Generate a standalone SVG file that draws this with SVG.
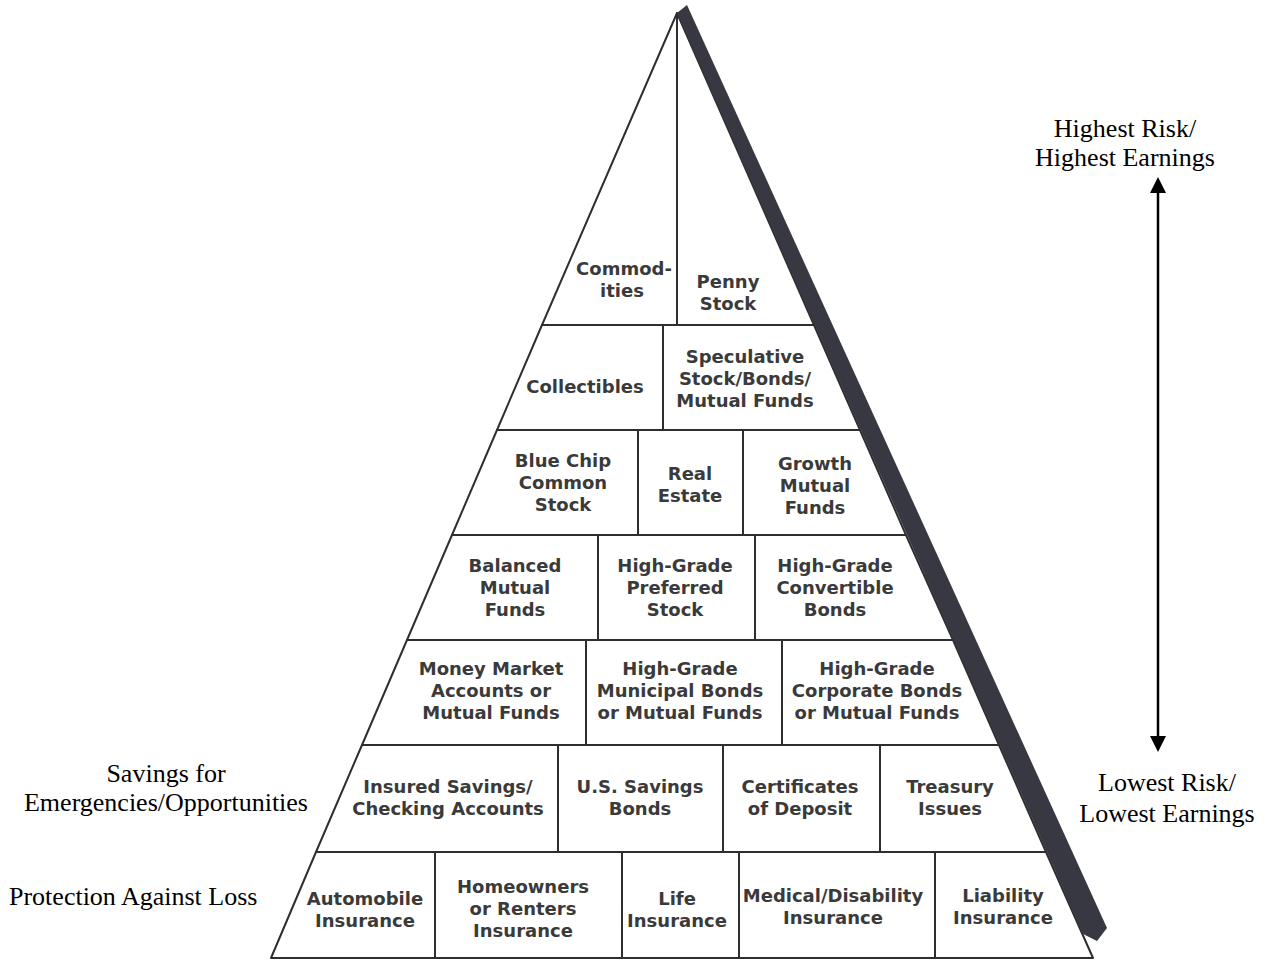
<svg xmlns="http://www.w3.org/2000/svg" width="1265" height="964" viewBox="0 0 1265 964">
<style>
.cell{fill:#fff;stroke:#2e2e2e;stroke-width:2;stroke-linejoin:round}
.lb{font-family:"DejaVu Sans","Liberation Sans",sans-serif;font-weight:bold;font-size:18px;fill:#3a3a3a;text-anchor:middle}
.side{font-family:"Liberation Serif","Times New Roman",serif;font-size:26px;fill:#000}
.mid{text-anchor:middle}
.arrow{stroke:#000;stroke-width:2.5;fill:none}
</style>
<defs>
<marker id="ah" viewBox="0 0 16 16" refX="8" refY="8" markerWidth="16" markerHeight="16" markerUnits="userSpaceOnUse" orient="auto-start-reverse">
<path d="M0,0 L16,8 L0,16 z" fill="#000"/>
</marker>
</defs>
<rect width="1265" height="964" fill="#fff"/>

<g id="row1">
<g id="commodities"><polygon class="cell" points="677,13 677,325 542,325"/><text class="lb" x="624" y="275">Commod-</text><text class="lb" x="622" y="297">ities</text></g>
<g id="penny-stock"><polygon class="cell" points="677,13 814,325 677,325"/><text class="lb" x="728" y="288">Penny</text><text class="lb" x="728" y="310">Stock</text></g>
</g>
<g id="row2">
<g id="collectibles"><polygon class="cell" points="542,325 663,325 663,430 497,430"/><text class="lb" x="585" y="393">Collectibles</text></g>
<g id="speculative"><polygon class="cell" points="663,325 814,325 860,430 663,430"/><text class="lb" x="745" y="363">Speculative</text><text class="lb" x="745" y="385">Stock/Bonds/</text><text class="lb" x="745" y="407">Mutual Funds</text></g>
</g>
<g id="row3">
<g id="blue-chip"><polygon class="cell" points="497,430 638,430 638,535 452,535"/><text class="lb" x="563" y="467">Blue Chip</text><text class="lb" x="563" y="489">Common</text><text class="lb" x="563" y="511">Stock</text></g>
<g id="real-estate"><polygon class="cell" points="638,430 743,430 743,535 638,535"/><text class="lb" x="690" y="480">Real</text><text class="lb" x="690" y="502">Estate</text></g>
<g id="growth-funds"><polygon class="cell" points="743,430 860,430 906,535 743,535"/><text class="lb" x="815" y="470">Growth</text><text class="lb" x="815" y="492">Mutual</text><text class="lb" x="815" y="514">Funds</text></g>
</g>
<g id="row4">
<g id="balanced-funds"><polygon class="cell" points="452,535 598,535 598,640 407,640"/><text class="lb" x="515" y="572">Balanced</text><text class="lb" x="515" y="594">Mutual</text><text class="lb" x="515" y="616">Funds</text></g>
<g id="preferred-stock"><polygon class="cell" points="598,535 755,535 755,640 598,640"/><text class="lb" x="675" y="572">High-Grade</text><text class="lb" x="675" y="594">Preferred</text><text class="lb" x="675" y="616">Stock</text></g>
<g id="convertible-bonds"><polygon class="cell" points="755,535 906,535 953,640 755,640"/><text class="lb" x="835" y="572">High-Grade</text><text class="lb" x="835" y="594">Convertible</text><text class="lb" x="835" y="616">Bonds</text></g>
</g>
<g id="row5">
<g id="money-market"><polygon class="cell" points="407,640 586,640 586,745 362,745"/><text class="lb" x="491" y="675">Money Market</text><text class="lb" x="491" y="697">Accounts or</text><text class="lb" x="491" y="719">Mutual Funds</text></g>
<g id="municipal-bonds"><polygon class="cell" points="586,640 782,640 782,745 586,745"/><text class="lb" x="680" y="675">High-Grade</text><text class="lb" x="680" y="697">Municipal Bonds</text><text class="lb" x="680" y="719">or Mutual Funds</text></g>
<g id="corporate-bonds"><polygon class="cell" points="782,640 953,640 999,745 782,745"/><text class="lb" x="877" y="675">High-Grade</text><text class="lb" x="877" y="697">Corporate Bonds</text><text class="lb" x="877" y="719">or Mutual Funds</text></g>
</g>
<g id="row6">
<g id="insured-savings"><polygon class="cell" points="362,745 558,745 558,852 316,852"/><text class="lb" x="448" y="793">Insured Savings/</text><text class="lb" x="448" y="815">Checking Accounts</text></g>
<g id="savings-bonds"><polygon class="cell" points="558,745 723,745 723,852 558,852"/><text class="lb" x="640" y="793">U.S. Savings</text><text class="lb" x="640" y="815">Bonds</text></g>
<g id="certificates"><polygon class="cell" points="723,745 880,745 880,852 723,852"/><text class="lb" x="800" y="793">Certificates</text><text class="lb" x="800" y="815">of Deposit</text></g>
<g id="treasury"><polygon class="cell" points="880,745 999,745 1046,852 880,852"/><text class="lb" x="950" y="793">Treasury</text><text class="lb" x="950" y="815">Issues</text></g>
</g>
<g id="row7">
<g id="automobile"><polygon class="cell" points="316,852 435,852 435,958 271,958"/><text class="lb" x="365" y="905">Automobile</text><text class="lb" x="365" y="927">Insurance</text></g>
<g id="homeowners"><polygon class="cell" points="435,852 622,852 622,958 435,958"/><text class="lb" x="523" y="893">Homeowners</text><text class="lb" x="523" y="915">or Renters</text><text class="lb" x="523" y="937">Insurance</text></g>
<g id="life"><polygon class="cell" points="622,852 739,852 739,958 622,958"/><text class="lb" x="677" y="905">Life</text><text class="lb" x="677" y="927">Insurance</text></g>
<g id="medical"><polygon class="cell" points="739,852 935,852 935,958 739,958"/><text class="lb" x="833" y="902">Medical/Disability</text><text class="lb" x="833" y="924">Insurance</text></g>
<g id="liability"><polygon class="cell" points="935,852 1046,852 1093,958 935,958"/><text class="lb" x="1003" y="902">Liability</text><text class="lb" x="1003" y="924">Insurance</text></g>
</g>

<g id="shadow">
<polygon points="677,13 687,5 1107,928 1097,941 1083,934" fill="#383842"/>
</g>

<g id="connectors">
<line class="arrow" x1="1158" y1="185" x2="1158" y2="744" marker-start="url(#ah)" marker-end="url(#ah)"/>
</g>

<g id="side-labels">
<g id="high-label"><text class="side mid" x="1125" y="137">Highest Risk/</text><text class="side mid" x="1125" y="166">Highest Earnings</text></g>
<g id="low-label"><text class="side mid" x="1167" y="791">Lowest Risk/</text><text class="side mid" x="1167" y="822">Lowest Earnings</text></g>
<g id="savings-label"><text class="side mid" x="166" y="782">Savings for</text><text class="side mid" x="166" y="811">Emergencies/Opportunities</text></g>
<g id="protection-label"><text class="side" x="9" y="905">Protection Against Loss</text></g>
</g>
</svg>
